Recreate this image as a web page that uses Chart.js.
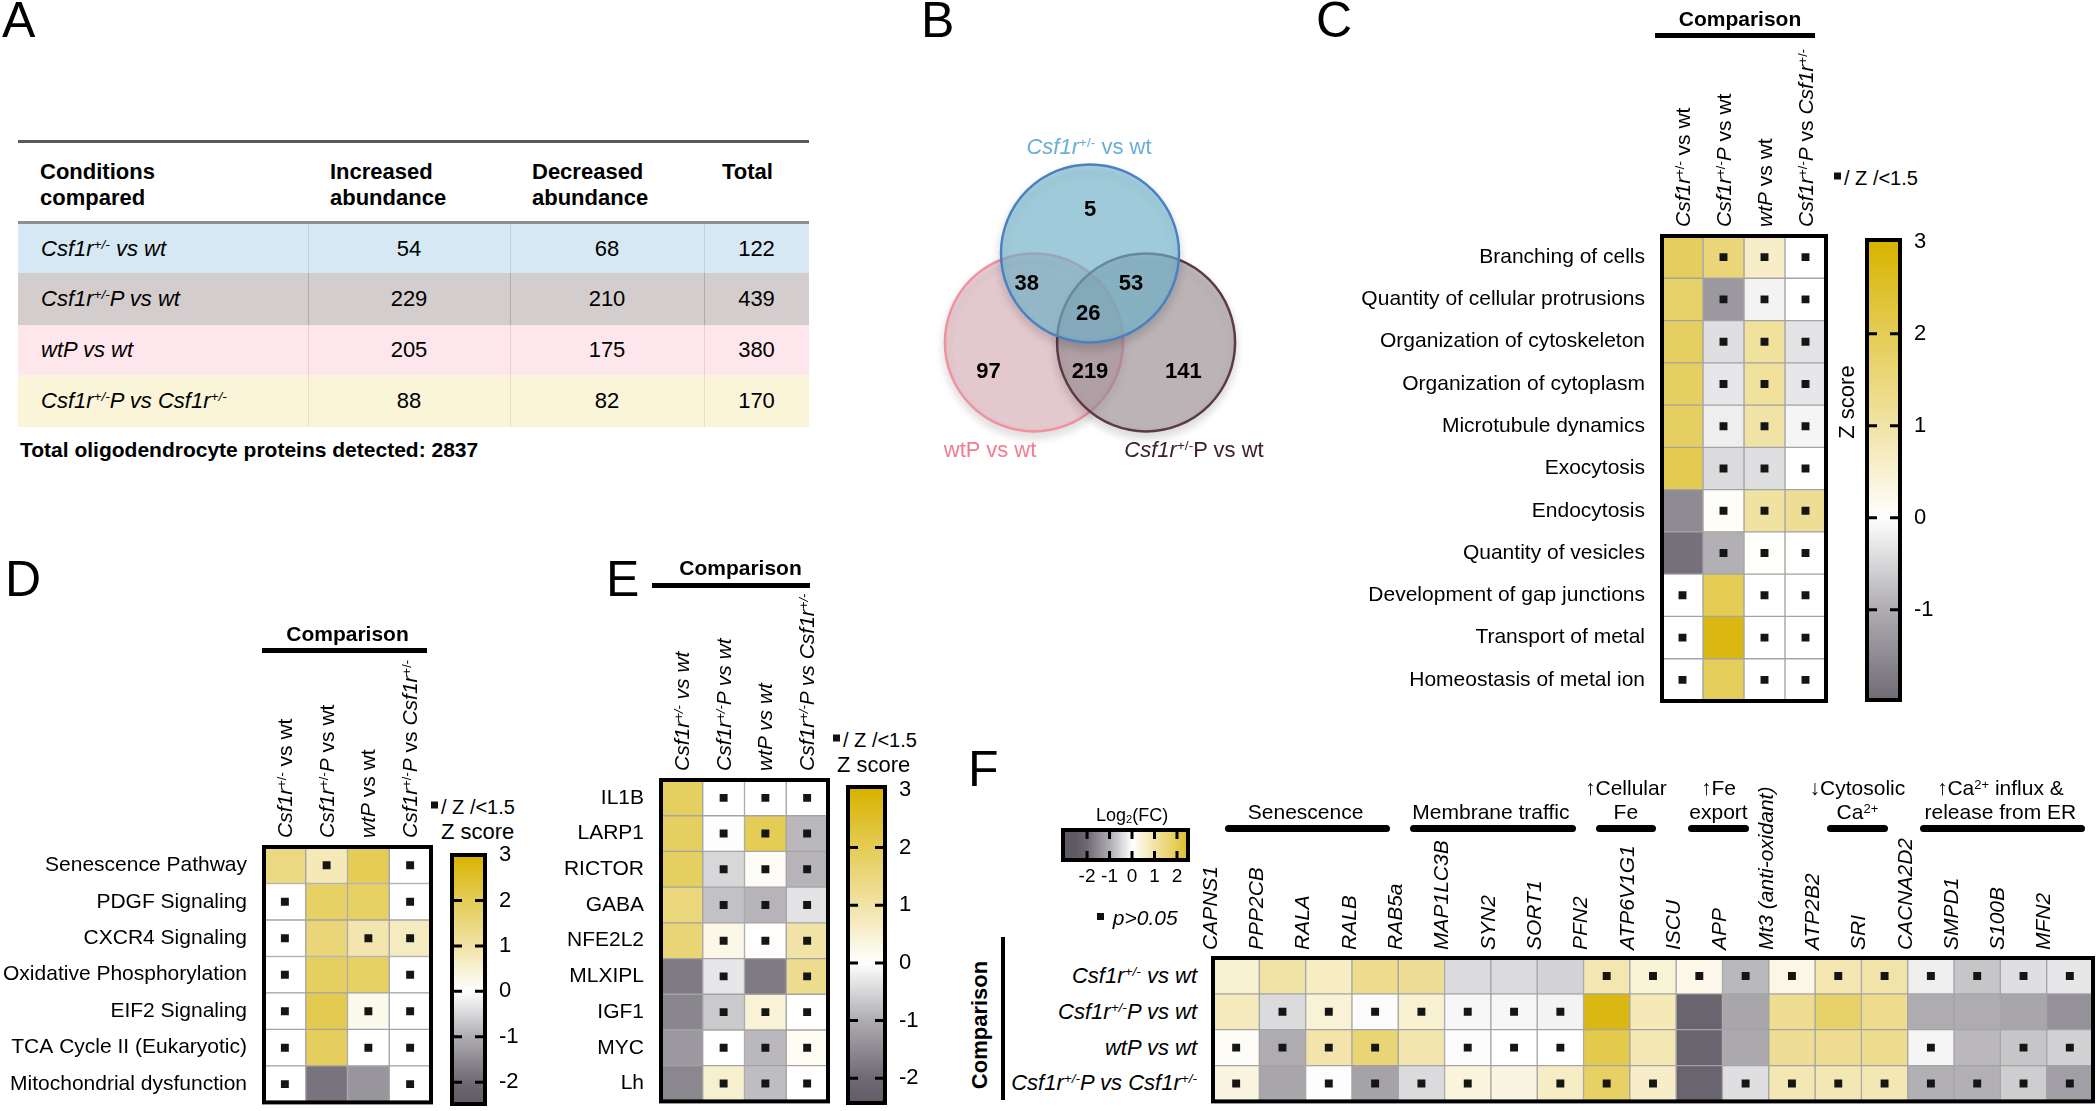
<!DOCTYPE html>
<html><head><meta charset="utf-8">
<script src="https://cdn.jsdelivr.net/npm/chart.js@4.4.1/dist/chart.umd.min.js"></script>
<style>
html,body{margin:0;padding:0;background:#fff;}
#page{position:relative;width:2100px;height:1111px;overflow:hidden;font-family:"Liberation Sans",Arial,Helvetica,sans-serif;color:#000;}
.abs{position:absolute;white-space:nowrap;}
canvas{position:absolute;}
sup{font-size:62%;vertical-align:0.5em;line-height:0;}
sub{font-size:62%;vertical-align:-0.25em;line-height:0;}
.rot{position:absolute;white-space:nowrap;transform-origin:0 0;transform:rotate(-90deg) translateY(-50%);line-height:1.2;}
.sq{display:inline-block;width:7px;height:7px;background:#111;vertical-align:middle;margin-right:3px;position:relative;top:-3px;}
</style></head>
<body><div id="page"></div>
<script>
// ================= DATA =================
// Panel A
const tableHeaders = ["Conditions<br>compared", "Increased<br>abundance", "Decreased<br>abundance", "Total"];
const tableConditions = ["Csf1r+/- vs wt", "Csf1r+/-P vs wt", "wtP vs wt", "Csf1r+/-P vs Csf1r+/-"];
const tableIncreased = [54, 229, 205, 88];
const tableDecreased = [68, 210, 175, 82];
const tableTotal = [122, 439, 380, 170];
const proteinsDetected = 2837;

// Panel B (Venn)
const vennSetNames = ["Csf1r+/- vs wt", "Csf1r+/-P vs wt", "wtP vs wt"];
const vennRegionNames = ["Csf1r only", "Csf1r & wtP", "Csf1r & Csf1rP", "all three", "wtP only", "wtP & Csf1rP", "Csf1rP only"];
const vennRegionCounts = [5, 38, 53, 26, 97, 219, 141];

// Comparisons (columns of C, D, E; rows of F)
const comparisons = ["Csf1r+/- vs wt", "Csf1r+/-P vs wt", "wtP vs wt", "Csf1r+/-P vs Csf1r+/-"];

// Panel C
const cFunctions = ["Branching of cells", "Quantity of cellular protrusions", "Organization of cytoskeleton",
  "Organization of cytoplasm", "Microtubule dynamics", "Exocytosis", "Endocytosis", "Quantity of vesicles",
  "Development of gap junctions", "Transport of metal", "Homeostasis of metal ion"];
const cZ = [
  [1.9, 1.55, 0.6, 0], [1.75, -1.3, -0.15, 0], [1.85, -0.4, 1.1, -0.35], [1.85, -0.3, 1.1, -0.3],
  [1.85, -0.2, 1.0, -0.12], [2.05, -0.45, -0.4, 0], [-1.5, 0.08, 1.05, 1.2], [-1.9, -0.95, 0.05, 0],
  [0, 2.0, 0, 0], [0, 2.8, 0, 0], [0, 1.95, 0, 0]];
const cSmallZ = [
  [0,1,1,1],[0,1,1,1],[0,1,1,1],[0,1,1,1],[0,1,1,1],[0,1,1,1],[0,1,1,1],[0,1,1,1],[1,0,1,1],[1,0,1,1],[1,0,1,1]];
const cScaleTicks = [-1, 0, 1, 2, 3];

// Panel D
const dPathways = ["Senescence Pathway", "PDGF Signaling", "CXCR4 Signaling", "Oxidative Phosphorylation",
  "EIF2 Signaling", "TCA Cycle II (Eukaryotic)", "Mitochondrial dysfunction"];
const dZ = [[1.45, 0.8, 2.0, 0], [0, 1.8, 1.8, 0], [0, 1.55, 0.9, 0.7], [0, 1.85, 1.8, 0],
  [0, 2.05, 0.2, 0], [0, 1.9, 0, 0], [0, -1.85, -1.35, 0]];
const dSmallZ = [[0,1,0,1],[1,0,0,1],[1,0,1,1],[1,0,0,1],[1,0,1,1],[1,0,1,1],[1,0,0,1]];
const dScaleTicks = [-2, -1, 0, 1, 2, 3];

// Panel E
const eRegulators = ["IL1B", "LARP1", "RICTOR", "GABA", "NFE2L2", "MLXIPL", "IGF1", "MYC", "Lh"];
const eZ = [[1.85, 0, 0, 0], [1.85, -0.03, 2.0, -0.85], [1.85, -0.5, 0.1, -0.9], [1.5, -0.75, -0.9, -0.35],
  [1.6, 0.25, 0.02, 1.0], [-1.75, -0.3, -1.75, 1.3], [-1.57, -0.65, 0.45, 0], [-1.3, 0, -0.85, 0.15],
  [-1.55, 0.55, -0.8, 0]];
const eSmallZ = [[0,1,1,1],[0,1,1,1],[0,1,1,1],[0,1,1,1],[0,1,1,1],[0,1,0,1],[0,1,1,1],[0,1,1,1],[0,1,1,1]];
const eScaleTicks = [-2, -1, 0, 1, 2, 3];

// Panel F
const fGenes = ["CAPNS1", "PPP2CB", "RALA", "RALB", "RAB5a", "MAP1LC3B", "SYN2", "SORT1", "PFN2", "ATP6V1G1",
  "ISCU", "APP", "Mt3 (anti-oxidant)", "ATP2B2", "SRI", "CACNA2D2", "SMPD1", "S100B", "MFN2"];
const fLog2FC = [
  [0.5, 1.0, 0.65, 1.3, 1.2, -0.44, -0.44, -0.54, 0.88, 0.43, 0.23, -0.86, 0.3, 0.88, 0.97, -0.2, -0.7, -0.4, -0.3],
  [0.75, -0.45, 0.45, -0.05, 0.5, -0.1, -0.1, -0.15, 2.8, 0.8, -2.15, -1.1, 1.25, 1.75, 1.3, -1.0, -1.0, -1.1, -1.4],
  [0.1, -1.0, 0.95, 1.6, 0.9, -0.05, 0, 0, 2.1, 0.85, -2.15, -1.05, 1.2, 1.25, 1.3, -0.12, -0.85, -0.7, -0.55],
  [0.35, -1.1, -0.03, -1.15, -0.45, 0.4, 0.35, 0.65, 1.8, 0.6, -2.15, -0.4, 0.85, 0.85, 0.85, -0.95, -0.95, -0.6, -1.2]];
const fNotSig = [
  [0,0,0,0,0,0,0,0,1,1,1,1,1,1,1,1,1,1,1],
  [0,1,1,1,1,1,1,1,0,0,0,0,0,0,0,0,0,0,0],
  [1,1,1,1,0,1,1,1,0,0,0,0,0,0,0,1,0,1,1],
  [1,0,1,1,1,1,0,1,1,1,0,1,1,1,1,1,1,1,1]];
const fGroupLabels = ["Senescence", "Membrane traffic", "\u2191Cellular\nFe", "\u2191Fe\nexport", "\u2193Cytosolic\nCa^2+", "\u2191Ca^2+ influx &\nrelease from ER"];
const fGroupFrom = [0, 4, 8, 10, 13, 15];
const fGroupTo = [3, 7, 9, 11, 14, 18];
const fScaleTicks = [-2, -1, 0, 1, 2];

// ================= HELPERS =================
const FONT = '"Liberation Sans", Arial, Helvetica, sans-serif';
const page = document.getElementById('page');
const RAMP = [[-2.5,[95,89,100]],[-2,[111,105,116]],[-1,[174,172,177]],[0,[255,255,255]],[1,[241,227,165]],[2,[228,204,85]],[3,[216,179,0]]];
function rampColor(v){
  if (v <= RAMP[0][0]) return 'rgb('+RAMP[0][1].join(',')+')';
  for (let i=1;i<RAMP.length;i++){
    if (v <= RAMP[i][0]){
      const [v0,c0]=RAMP[i-1],[v1,c1]=RAMP[i]; const t=(v-v0)/(v1-v0);
      return 'rgb('+c0.map((c,k)=>Math.round(c+(c1[k]-c)*t)).join(',')+')';
    }
  }
  return 'rgb('+RAMP[RAMP.length-1][1].join(',')+')';
}
function fmt(s){
  return s.replace(/\+\/-/g,'\u00a7').replace(/Csf1r/g,'<i>Csf1r</i>').replace(/wtP/g,'<i>wtP</i>')
    .replace(/\u00a7P/g,'<sup>+/-</sup><i>P</i>').replace(/\u00a7/g,'<sup>+/-</sup>');
}
function add(html, css){
  const d=document.createElement('div'); d.className='abs'; d.innerHTML=html;
  Object.assign(d.style, css||{}); page.appendChild(d); return d;
}
function box(left, top, w, h, bg, extra){
  return add('', Object.assign({left:left+'px',top:top+'px',width:w+'px',height:h+'px',background:bg}, extra||{}));
}
function rotLabel(html, cx, yBottom, size, css){
  const d=document.createElement('div'); d.className='rot'; d.innerHTML=html;
  Object.assign(d.style,{left:cx+'px',top:yBottom+'px',fontSize:size+'px'}, css||{}); page.appendChild(d); return d;
}
function rotCenter(html, cx, cy, css){
  return add(html, Object.assign({left:cx+'px',top:cy+'px',transform:'translate(-50%,-50%) rotate(-90deg)'}, css||{}));
}
function mkCanvas(left, top, w, h){
  const c=document.createElement('canvas'); c.width=w; c.height=h;
  Object.assign(c.style,{left:left+'px',top:top+'px',width:w+'px',height:h+'px'}); page.appendChild(c); return c;
}
function panelLetter(ch, left, capTop){ add(ch,{left:left+'px',top:(capTop-6.5)+'px',fontSize:'50px',lineHeight:'1'}); }

const boxBorder = {id:'boxBorder', afterDatasetsDraw(chart, args, o){
  if(!o || !o.width) return; const {ctx, chartArea:a}=chart;
  ctx.save(); ctx.lineWidth=o.width; ctx.strokeStyle='#000'; ctx.strokeRect(a.left,a.top,a.right-a.left,a.bottom-a.top); ctx.restore();
}};
const tickDashes = {id:'tickDashes', afterDatasetsDraw(chart, args, o){
  if(!o || !o.values) return; const {ctx, chartArea:a}=chart; const sc=chart.scales[o.axis];
  ctx.save(); ctx.strokeStyle='#000'; ctx.lineWidth=o.width;
  o.values.forEach(v=>{ const p=sc.getPixelForValue(v); ctx.beginPath();
    if(o.axis==='x'){ ctx.moveTo(p,a.top); ctx.lineTo(p,a.top+o.len); ctx.moveTo(p,a.bottom); ctx.lineTo(p,a.bottom-o.len); }
    else { ctx.moveTo(a.left,p); ctx.lineTo(a.left+o.len,p); ctx.moveTo(a.right,p); ctx.lineTo(a.right-o.len,p); }
    ctx.stroke(); });
  ctx.restore();
}};
const base = {responsive:false, animation:false, events:[], devicePixelRatio:1};
function noPadV(s){ s.paddingTop=0; s.paddingBottom=0; }
function noPadH(s){ s.paddingLeft=0; s.paddingRight=0; }

function rowHeatmap(canvas, rows, values, marks, labelWidth, pad){
  const nCols = values[0].length; const datasets=[];
  for(let c=0;c<nCols;c++){
    datasets.push({type:'bar', data: rows.map(()=>[c,c+1]), backgroundColor: rows.map((_,r)=>rampColor(values[r][c])),
      borderColor:'#a4a4a4', borderWidth:1, borderSkipped:false, barPercentage:1, categoryPercentage:1, grouped:false, order:1});
  }
  const pts=[]; rows.forEach((rn,r)=>{ for(let c=0;c<nCols;c++) if(marks[r][c]) pts.push({x:c+0.5,y:rn}); });
  datasets.push({type:'line', data:pts, showLine:false, pointStyle:'rect', pointRadius:5.6, pointBackgroundColor:'#151515', pointBorderWidth:0, order:0});
  return new Chart(canvas, {type:'bar', data:{labels:rows, datasets}, options:Object.assign({}, base, {
    indexAxis:'y', layout:{padding:pad},
    plugins:{legend:{display:false}, tooltip:{enabled:false}, boxBorder:{width:4}},
    scales:{ x:{type:'linear', min:0, max:nCols, display:false},
      y:{type:'category', grid:{display:false, drawTicks:false}, border:{display:false},
        ticks:{color:'#000', font:{family:FONT, size:21}, padding:17, autoSkip:false},
        afterFit:(s)=>{s.width=labelWidth; noPadV(s);}}}}), plugins:[boxBorder]});
}
function gradient(chart, axis, min, max){
  const a=chart.chartArea; if(!a) return '#ffffff'; const sc=chart.scales[axis];
  const p0=sc.getPixelForValue(min), p1=sc.getPixelForValue(max);
  if(!isFinite(p0)||!isFinite(p1)) return '#ffffff';
  const g = axis==='y' ? chart.ctx.createLinearGradient(0,p0,0,p1) : chart.ctx.createLinearGradient(p0,0,p1,0);
  const N=50; for(let i=0;i<=N;i++){ g.addColorStop(i/N, rampColor(min+(max-min)*i/N)); } return g;
}
function vColorbar(canvas, min, max, ticks, pad, axisWidth){
  return new Chart(canvas, {type:'bar', data:{labels:[''], datasets:[{data:[[min,max]], backgroundColor:(ctx)=>gradient(ctx.chart,'y',min,max),
      borderWidth:0, barPercentage:1, categoryPercentage:1}]},
    options:Object.assign({}, base, {layout:{padding:pad},
      plugins:{legend:{display:false}, tooltip:{enabled:false}, boxBorder:{width:4}, tickDashes:{axis:'y', values:ticks.filter(v=>v<max-0.05), len:10, width:3}},
      scales:{x:{display:false}, y:{min, max, position:'right', grid:{display:false, drawTicks:false}, border:{display:false},
        afterBuildTicks:(s)=>{s.ticks=ticks.map(v=>({value:v}));},
        ticks:{color:'#000', font:{family:FONT, size:22}, padding:14},
        afterFit:(s)=>{s.width=axisWidth; noPadV(s);}}}}), plugins:[boxBorder, tickDashes]});
}

// ================= PANEL LETTERS =================
panelLetter('A', 2, 1); panelLetter('B', 921, 1); panelLetter('C', 1316, 1);
panelLetter('D', 5, 560); panelLetter('E', 606, 560); panelLetter('F', 968, 750);

// ================= PANEL A: table =================
(function(){
  const L=18, R=809, colX=[18,308,510,704,809];
  const rowTop=[224,273,325,375], rowH=[49,52,50,52];
  const rowBg=["#d5e8f3","#d4cdce","#fde6ec","#faf4d8"], divCol=["#b9d4e8","#b2aaac","#f1cbd5","#ece0b2"];
  box(L,140,R-L,3,'#5a5a5a');
  box(L,221,R-L,3,'#8e8e8e');
  tableHeaders.forEach((h,i)=>add(h,{left:(colX[i]+(i===3?18:22))+'px',top:'159px',fontSize:'22px',lineHeight:'26px',fontWeight:'bold'}));
  tableConditions.forEach((c,r)=>{
    box(L,rowTop[r],R-L,rowH[r],rowBg[r]);
    [1,2,3].forEach(k=>box(colX[k],rowTop[r],1,rowH[r],divCol[r]));
    const cy=rowTop[r]+rowH[r]/2;
    add(fmt(c),{left:'41px',top:cy+'px',transform:'translateY(-50%)',fontSize:'22px',fontStyle:'italic'});
    [tableIncreased[r],tableDecreased[r],tableTotal[r]].forEach((v,k)=>
      add(String(v),{left:((colX[k+1]+colX[k+2])/2)+'px',top:cy+'px',transform:'translate(-50%,-50%)',fontSize:'22px'}));
  });
  add('Total oligodendrocyte proteins detected: '+proteinsDetected,{left:'20px',top:'450px',transform:'translateY(-50%)',fontSize:'21px',fontWeight:'bold'});
})();

// ================= PANEL B: Venn =================
(function(){
  const cv=mkCanvas(840,75,500,460);
  const unit=89;
  // layout of the three circles (unit = circle radius)
  const centers=[[0,0.58],[0.63,-0.42],[-0.63,-0.42]];
  const fills=['rgba(120,191,214,0.62)','rgba(160,146,151,0.58)','rgba(228,176,186,0.5)'];
  const strokes=['#4a80c4','#5c3b46','#f1909f'];
  const regionPos=[[0,1.07],[-0.71,0.24],[0.46,0.24],[-0.02,-0.1],[-1.14,-0.75],[0,-0.75],[1.05,-0.75]];
  const vennShadow={id:'vennShadow',
    beforeDatasetsDraw(chart){ const c=chart.ctx; c.save(); c.shadowColor='rgba(0,0,0,0.22)'; c.shadowBlur=10; c.shadowOffsetY=5; },
    afterDatasetsDraw(chart){ chart.ctx.restore(); }};
  const vennText={id:'vennText', afterDatasetsDraw(chart){
    const {ctx}=chart; const x=chart.scales.x, y=chart.scales.y;
    ctx.save(); ctx.shadowColor='rgba(0,0,0,0)'; ctx.font='bold 22px '+FONT; ctx.fillStyle='#000'; ctx.textAlign='center'; ctx.textBaseline='middle';
    vennRegionCounts.forEach((n,i)=>ctx.fillText(String(n), x.getPixelForValue(regionPos[i][0]), y.getPixelForValue(regionPos[i][1])));
    ctx.restore();
  }};
  const ch=new Chart(cv,{type:'bubble', data:{datasets: vennSetNames.map((nm,i)=>({label:nm,
      data:[{x:centers[i][0], y:centers[i][1]}], backgroundColor:fills[i], borderColor:strokes[i], borderWidth:2.5,
      radius:unit, hoverRadius:unit}))},
    options:Object.assign({}, base, {layout:{padding:0}, clip:false, plugins:{legend:{display:false}, tooltip:{enabled:false}},
      scales:{x:{min:-2,max:2,display:false}, y:{min:-2,max:2,display:false}}}), plugins:[vennShadow, vennText]});
  // make one data unit equal to one circle radius in pixels
  const a=ch.chartArea; const hw=(a.right-a.left)/2/unit, hh=(a.bottom-a.top)/2/unit;
  ch.options.scales.x.min=-hw; ch.options.scales.x.max=hw; ch.options.scales.y.min=-hh; ch.options.scales.y.max=hh;
  ch.update();
  add('<i>Csf1r</i><sup>+/-</sup> vs wt',{left:'1089px',top:'147px',transform:'translate(-50%,-50%)',fontSize:'22px',color:'#6aaed6'});
  add('wtP vs wt',{left:'990px',top:'450px',transform:'translate(-50%,-50%)',fontSize:'22px',color:'#f27b8f'});
  add('<i>Csf1r</i><sup>+/-</sup>P vs wt',{left:'1194px',top:'450px',transform:'translate(-50%,-50%)',fontSize:'22px',color:'#3f2029'});
})();

// ================= PANEL C =================
(function(){
  const cl=1262, ct=226; const cv=mkCanvas(cl,ct,574,485);
  const ch=rowHeatmap(cv, cFunctions, cZ, cSmallZ, 400, {top:10,bottom:10,right:10,left:0});
  const a=ch.chartArea, xs=ch.scales.x;
  comparisons.forEach((c,i)=>rotLabel(fmt(c), cl+xs.getPixelForValue(i+0.5), ct+a.top-9, 21));
  add('Comparison',{left:(cl+(a.left+a.right)/2-4)+'px',top:'19px',transform:'translate(-50%,-50%)',fontSize:'21px',fontWeight:'bold'});
  box(cl+a.left-7,33,a.right-a.left-4,5,'#000');
  add('<span class="sq"></span>/ Z /&lt;1.5',{left:'1834px',top:'178px',transform:'translateY(-50%)',fontSize:'20px'});
  rotCenter('Z score',1847,402,{fontSize:'22px'});
  vColorbar(mkCanvas(1857,228,100,484), -1.98, 3.02, cScaleTicks, {top:12,bottom:12,left:10,right:0}, 57);
})();

// ================= PANEL D =================
(function(){
  const cl=0, ct=837; const cv=mkCanvas(cl,ct,441,271);
  const ch=rowHeatmap(cv, dPathways, dZ, dSmallZ, 264, {top:10,bottom:4,right:10,left:0});
  const a=ch.chartArea, xs=ch.scales.x;
  comparisons.forEach((c,i)=>rotLabel(fmt(c), cl+xs.getPixelForValue(i+0.5), ct+a.top-9, 21));
  add('Comparison',{left:(cl+(a.left+a.right)/2)+'px',top:'634px',transform:'translate(-50%,-50%)',fontSize:'21px',fontWeight:'bold'});
  box(cl+a.left-2,648,a.right-a.left-2,5,'#000');
  add('<span class="sq"></span>/ Z /&lt;1.5',{left:'431px',top:'807px',transform:'translateY(-50%)',fontSize:'20px'});
  add('Z score',{left:'441px',top:'832px',transform:'translateY(-50%)',fontSize:'22px'});
  vColorbar(mkCanvas(442,843,100,265), -2.48, 3.0, dScaleTicks, {top:12,bottom:4,left:10,right:0}, 57);
})();

// ================= PANEL E =================
(function(){
  const cl=470, ct=770; const cv=mkCanvas(cl,ct,368,337);
  const ch=rowHeatmap(cv, eRegulators, eZ, eSmallZ, 191, {top:10,bottom:4,right:10,left:0});
  const a=ch.chartArea, xs=ch.scales.x;
  comparisons.forEach((c,i)=>rotLabel(fmt(c), cl+xs.getPixelForValue(i+0.5), ct+a.top-9, 21, {fontStyle:'italic'}));
  add('Comparison',{left:(cl+(a.left+a.right)/2-4)+'px',top:'568px',transform:'translate(-50%,-50%)',fontSize:'21px',fontWeight:'bold'});
  box(cl+a.left-9,583,a.right-a.left-9,5,'#000');
  add('<span class="sq"></span>/ Z /&lt;1.5',{left:'833px',top:'740px',transform:'translateY(-50%)',fontSize:'20px'});
  add('Z score',{left:'837px',top:'765px',transform:'translateY(-50%)',fontSize:'22px'});
  vColorbar(mkCanvas(838,775,100,332), -2.43, 3.05, eScaleTicks, {top:12,bottom:4,left:10,right:0}, 53);
})();

// ================= PANEL F =================
(function(){
  const cl=1203, ct=760; const cv=mkCanvas(cl,ct,897,347);
  const datasets = comparisons.map((cmp,r)=>({type:'bar', data:fGenes.map(()=>[r,r+1]),
    backgroundColor:fGenes.map((_,g)=>rampColor(fLog2FC[r][g])), borderColor:'#a4a4a4', borderWidth:1, borderSkipped:false,
    barPercentage:1, categoryPercentage:1, grouped:false, order:1}));
  const pts=[]; comparisons.forEach((_,r)=>fGenes.forEach((g,i)=>{ if(fNotSig[r][i]) pts.push({x:g,y:r+0.5}); }));
  datasets.push({type:'line', data:pts, showLine:false, pointStyle:'rect', pointRadius:5.6, pointBackgroundColor:'#151515', pointBorderWidth:0, order:0});
  const ch=new Chart(cv,{type:'bar', data:{labels:fGenes, datasets}, options:Object.assign({}, base, {
    layout:{padding:{left:10,right:7,top:0,bottom:4}},
    plugins:{legend:{display:false}, tooltip:{enabled:false}, boxBorder:{width:4}},
    scales:{ x:{type:'category', position:'top', offset:true, grid:{display:false, drawTicks:false}, border:{display:false},
        ticks:{autoSkip:false, minRotation:90, maxRotation:90, color:'#000', font:{family:FONT, size:21, style:'italic'}, padding:8},
        afterFit:(s)=>{s.height=198; noPadH(s);}},
      y:{type:'linear', min:0, max:comparisons.length, reverse:true, display:false}}}), plugins:[boxBorder]});
  const a=ch.chartArea, xs=ch.scales.x, ys=ch.scales.y;
  const colW=(a.right-a.left)/fGenes.length;
  comparisons.forEach((c,r)=>add(fmt(c),{left:'1197px',top:(ct+ys.getPixelForValue(r+0.5))+'px',transform:'translate(-100%,-50%)',fontSize:'22px',fontStyle:'italic'}));
  box(1001,937,4,163,'#000');
  rotCenter('Comparison',980,1025,{fontSize:'22px',fontWeight:'bold'});
  fGroupLabels.forEach((g,i)=>{
    const l=cl+xs.getPixelForValue(fGroupFrom[i])-colW/2, r=cl+xs.getPixelForValue(fGroupTo[i])+colW/2;
    const two=(fGroupTo[i]-fGroupFrom[i])<2;
    const bl=l+12, br=two ? r-20 : r-8;
    box(bl,825,br-bl,7,'#000',{borderRadius:'4px'});
    add(g.replace(/\^2\+/g,'<sup>2+</sup>').replace(/\n/g,'<br>'),
      {left:((l+r)/2-(two?4:0))+'px',top:'824px',transform:'translate(-50%,-100%)',fontSize:'21px',lineHeight:'24px',textAlign:'center'});
  });
  add('Log<sub>2</sub>(FC)',{left:'1132px',top:'815px',transform:'translate(-50%,-50%)',fontSize:'18px'});
  const fMin=-3.07, fMax=2.49;
  new Chart(mkCanvas(1053,820,145,70),{type:'bar', data:{labels:[''], datasets:[{data:[[fMin,fMax]],
      backgroundColor:(ctx)=>gradient(ctx.chart,'x',fMin,fMax), borderWidth:0, barPercentage:1, categoryPercentage:1}]},
    options:Object.assign({}, base, {indexAxis:'y', layout:{padding:{left:10,right:10,top:10,bottom:0}},
      plugins:{legend:{display:false}, tooltip:{enabled:false}, boxBorder:{width:4}, tickDashes:{axis:'x', values:fScaleTicks, len:9, width:3}},
      scales:{y:{display:false}, x:{min:fMin, max:fMax, position:'bottom', grid:{display:false, drawTicks:false}, border:{display:false},
        afterBuildTicks:(s)=>{s.ticks=fScaleTicks.map(v=>({value:v}));},
        ticks:{color:'#000', font:{family:FONT, size:19}, padding:5}, afterFit:(s)=>{s.height=30; noPadH(s);}}}}), plugins:[boxBorder, tickDashes]});
  add('<span class="sq"></span> <i>p&gt;0.05</i>',{left:'1097px',top:'918px',transform:'translateY(-50%)',fontSize:'21px'});
})();
</script></body></html>
